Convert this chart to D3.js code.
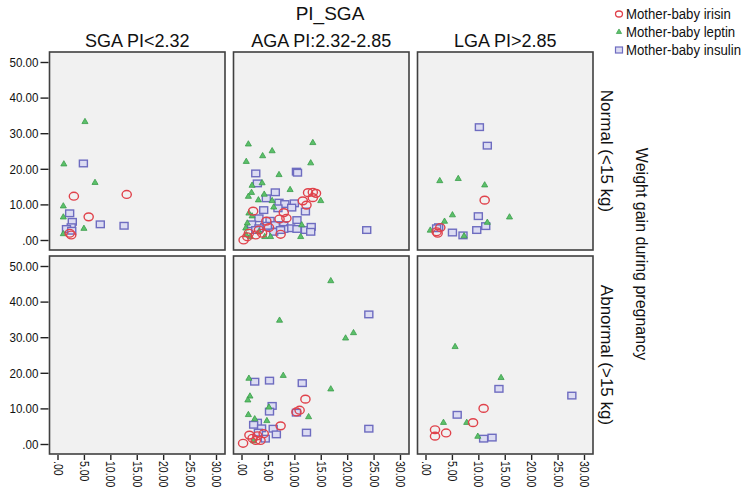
<!DOCTYPE html>
<html><head><meta charset="utf-8">
<script src="https://cdn.jsdelivr.net/npm/d3@7"></script>
<style>body{margin:0;background:#fff}svg{display:block}text{font-family:"Liberation Sans",Arial,sans-serif;fill:#111}</style>
</head><body><svg id="c" width="750" height="494"></svg>
<script>
const columns = ["SGA PI<2.32", "AGA PI:2.32-2.85", "LGA PI>2.85"];
const rows = ["Normal (<15 kg)", "Abnormal (>15 kg)"];
const seriesNames = ["Mother-baby irisin", "Mother-baby leptin", "Mother-baby insulin"];
const xTicks = [0, 5, 10, 15, 20, 25, 30];
const yTicks = [0, 10, 20, 30, 40, 50];

// [x, y] pairs per panel: key = row-col
const irisin = {
  "0-0": [[3.1,12.3],[13.1,12.8],[5.9,6.5],[2.3,1.9],[2.6,1.4]],
  "0-1": [[12.6,13.3],[13.5,13.4],[14.1,13.1],[13.5,11.9],[11.6,11.0],[12.3,9.8],[8.0,7.7],[2.2,8.1],[7.2,5.9],[8.5,6.1],[4.7,5.3],[7.4,1.6],[3.3,2.8],[3.9,1.9],[1.4,1.9],[0.4,0.0],[1.1,0.9],[2.7,1.4],[5.2,3.5]],
  "0-2": [[11.2,11.2],[2.8,3.5],[2.1,2.3],[2.3,1.9]],
  "1-0": [],
  "1-1": [[12.1,12.6],[11.0,9.5],[10.4,9.0],[7.4,5.1],[4.2,2.9],[3.0,2.3],[1.5,2.5],[2.1,1.6],[3.6,1.0],[0.3,0.2],[2.7,1.0]],
  "1-2": [[11.0,10.0],[9.0,6.0],[1.8,4.0],[1.8,2.2],[3.9,3.1]]
};
const leptin = {
  "0-0": [[5.2,33.2],[1.2,21.3],[7.1,16.1],[1.1,9.5],[1.1,6.4],[5.0,3.2],[1.1,1.7]],
  "0-1": [[1.3,26.9],[13.5,27.3],[5.8,25.0],[4.0,23.6],[0.9,22.0],[13.1,21.6],[7.1,18.3],[3.9,16.0],[2.0,15.3],[9.2,14.1],[1.9,13.3],[1.3,12.2],[4.3,12.8],[3.2,11.2],[5.8,11.0],[15.0,11.0],[6.1,9.2],[1.4,7.5],[2.0,6.7],[1.1,4.7],[11.4,4.2],[0.9,1.4],[1.7,0.9],[4.4,0.9],[11.2,0.9],[5.5,0.9],[3.3,2.3],[0.8,3.3]],
  "0-2": [[2.7,16.6],[6.2,17.2],[11.2,15.4],[5.1,7.0],[15.9,6.4],[3.6,5.2],[11.7,4.9],[0.9,2.7],[7.3,1.1]],
  "1-0": [],
  "1-1": [[16.9,45.8],[7.2,34.7],[21.2,31.2],[19.7,29.7],[7.9,19.2],[1.4,18.4],[16.9,15.4],[1.6,13.4],[1.2,12.3],[5.2,10.3],[1.3,8.2],[12.7,7.6],[2.5,7.0],[4.8,6.5],[2.3,0.8]],
  "1-2": [[5.6,27.3],[14.3,18.6],[3.4,6.0],[7.8,6.0],[9.9,2.1]]
};
const insulin = {
  "0-0": [[4.9,21.5],[2.3,7.5],[2.8,5.1],[8.1,4.4],[12.6,4.0],[2.6,3.6],[1.7,3.1],[2.7,2.6]],
  "0-1": [[2.7,18.7],[10.4,19.2],[10.6,18.9],[3.0,15.9],[6.4,13.4],[4.7,11.7],[7.1,10.5],[8.2,10.1],[10.0,10.3],[9.5,9.1],[6.9,8.9],[4.2,8.4],[12.1,8.0],[5.4,5.4],[10.5,5.6],[3.3,6.1],[1.9,4.4],[6.4,4.2],[8.0,4.2],[9.3,3.3],[10.5,3.1],[12.1,2.8],[13.2,3.7],[13.1,2.3],[8.0,3.1],[6.1,2.3],[4.4,3.7],[3.3,3.3],[4.9,4.0],[2.7,2.8],[23.7,2.8],[7.4,2.8]],
  "0-2": [[10.2,31.7],[11.7,26.5],[10.0,6.7],[11.4,3.9],[9.7,2.8],[7.1,1.3],[5.1,2.1],[2.5,3.6],[2.1,3.3]],
  "1-0": [],
  "1-1": [[24.1,36.4],[2.5,17.5],[5.3,17.8],[11.5,17.1],[5.8,10.7],[5.3,9.1],[10.4,8.8],[3.0,6.0],[2.3,5.4],[3.8,4.4],[6.0,4.3],[6.6,2.7],[12.3,3.2],[24.1,4.3],[3.2,3.2],[4.5,1.5]],
  "1-2": [[13.9,15.5],[6.0,8.2],[11.0,1.5],[12.6,1.8],[27.7,13.6]]
};

const svg = d3.select("#c");
const colX = [49.5, 233.5, 417.5];
const rowY = [52, 256];
const pw = 175.5, ph = 198;
const x = d3.scaleLinear().domain([0,30]).range([8, 166.5]);
const y = d3.scaleLinear().domain([0,50]).range([ph-10, 10]);
const fmt = v => v === 0 ? ".00" : d3.format(".2f")(v);

const RED = "#e0424b", GREEN = "#3a9d4a", GFILL = "#5cc06a", BLUE = "#6e6cc0", BFILL = "#dcdcf2";

function drawIrisin(g, pts) {
  g.selectAll("ellipse.ir").data(pts).join("ellipse").attr("class","ir")
    .attr("cx", d => x(d[0])).attr("cy", d => y(d[1])).attr("rx", 4.6).attr("ry", 3.9)
    .attr("fill", "none").attr("stroke", RED).attr("stroke-width", 1.4);
}
const tri = d3.symbol().type(d3.symbolTriangle).size(16);
function drawLeptin(g, pts) {
  g.selectAll("path.le").data(pts).join("path").attr("class","le")
    .attr("d", tri).attr("transform", d => `translate(${x(d[0])},${y(d[1])})`)
    .attr("fill", GFILL).attr("stroke", GREEN).attr("stroke-width", 0.8);
}
function drawInsulin(g, pts) {
  g.selectAll("rect.in").data(pts).join("rect").attr("class","in")
    .attr("x", d => x(d[0]) - 4).attr("y", d => y(d[1]) - 3.3).attr("width", 8).attr("height", 6.6)
    .attr("fill", BFILL).attr("stroke", BLUE).attr("stroke-width", 1.4);
}

rows.forEach((r, ri) => {
  columns.forEach((c, ci) => {
    const g = svg.append("g").attr("transform", `translate(${colX[ci]},${rowY[ri]})`);
    g.append("rect").attr("width", pw).attr("height", ph).attr("fill", "#f1f1f1")
      .attr("stroke", "#404040").attr("stroke-width", 1.6);
    const key = ri + "-" + ci;
    drawInsulin(g, insulin[key]);
    drawLeptin(g, leptin[key]);
    drawIrisin(g, irisin[key]);
    if (ci === 0) {
      const ay = g.append("g").attr("transform", "translate(-1,0)")
        .call(d3.axisLeft(y).tickValues(yTicks).tickFormat(fmt).tickSize(8).tickPadding(2));
      ay.select(".domain").remove();
      ay.selectAll("line").attr("stroke", "#222").attr("stroke-width", 1.4);
      ay.selectAll("text").attr("font-size", 13.5).attr("fill", "#111")
        .attr("x", 0).attr("transform", "translate(-10,0) scale(0.86,1)");
    }
    if (ri === 1) {
      const ax = g.append("g").attr("transform", `translate(0,${ph+1})`)
        .call(d3.axisBottom(x).tickValues(xTicks).tickFormat(fmt).tickSize(5).tickPadding(3));
      ax.select(".domain").remove();
      ax.selectAll("line").attr("stroke", "#222").attr("stroke-width", 1.4);
      ax.selectAll("text").attr("font-size", 12.5).attr("fill", "#111")
        .attr("x", 0).attr("y", 0).attr("dy", "0.35em").attr("text-anchor", "start")
        .attr("transform", "translate(0,6) rotate(90) scale(0.84,1)");
    }
    if (ri === 0) {
      svg.append("text").attr("x", colX[ci] + pw/2).attr("y", 47).attr("text-anchor", "middle")
        .attr("font-size", 18).text(c);
    }
  });
  svg.append("text").attr("transform", `translate(601,${rowY[ri] + ph/2}) rotate(90)`)
    .attr("text-anchor", "middle").attr("font-size", 17).text(r);
});

svg.append("text").attr("x", 330).attr("y", 20).attr("text-anchor", "middle").attr("font-size", 19).text("PI_SGA");
svg.append("text").attr("transform", "translate(636,254) rotate(90)").attr("text-anchor", "middle")
  .attr("font-size", 16).text("Weight gain during pregnancy");

// legend
const lg = svg.append("g").attr("transform", "translate(619,0)");
const ly = [14, 32, 50];
lg.append("ellipse").attr("cx", 0).attr("cy", ly[0]).attr("rx", 3.5).attr("ry", 3).attr("fill", "none").attr("stroke", RED).attr("stroke-width", 1.3);
lg.append("path").attr("d", d3.symbol().type(d3.symbolTriangle).size(12)).attr("transform", `translate(0,${ly[1]})`).attr("fill", GFILL).attr("stroke", GREEN).attr("stroke-width", 0.7);
lg.append("rect").attr("x", -3.5).attr("y", ly[2]-3).attr("width", 7).attr("height", 6).attr("fill", BFILL).attr("stroke", BLUE).attr("stroke-width", 1.2);
seriesNames.forEach((s, i) => {
  lg.append("text").attr("x", 0).attr("y", 0).attr("dy", "0.35em").attr("font-size", 15)
    .attr("transform", `translate(7,${ly[i]}) scale(0.88,1)`).text(s);
});
</script></body></html>
